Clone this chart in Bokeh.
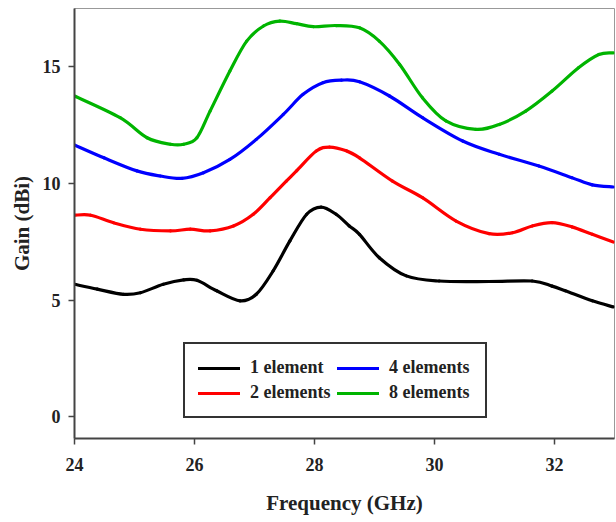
from bokeh.plotting import figure
from bokeh.models import Legend, LegendItem, FixedTicker, Range1d
from bokeh.embed import file_html
from bokeh.resources import INLINE

# 1 element
f1 = [24.0, 24.38, 24.82, 25.1, 25.48, 25.82, 26.04, 26.37, 26.76, 27.03, 27.31, 27.59,
      27.87, 28.11, 28.36, 28.58, 28.75, 29.08, 29.53, 30.08, 30.91, 31.63, 31.96, 32.18, 32.63, 32.98]
g1 = [5.68, 5.47, 5.25, 5.32, 5.68, 5.87, 5.85, 5.40, 4.97, 5.25, 6.25, 7.54,
      8.68, 8.99, 8.68, 8.18, 7.82, 6.82, 6.04, 5.82, 5.80, 5.82, 5.60, 5.40, 4.97, 4.71]

# 2 elements
f2 = [24.0, 24.27, 24.65, 25.1, 25.6, 25.93, 26.26, 26.65, 26.98, 27.26, 27.53, 27.7,
      28.03, 28.25, 28.53, 28.75, 29.3, 29.8, 30.36, 30.91, 31.3, 31.63, 31.96, 32.29, 32.63, 32.98]
g2 = [8.64, 8.64, 8.32, 8.04, 7.97, 8.04, 7.97, 8.18, 8.68, 9.39, 10.10, 10.54,
      11.39, 11.56, 11.40, 11.10, 10.10, 9.39, 8.39, 7.85, 7.89, 8.18, 8.32, 8.14, 7.82, 7.49]

# 4 elements
f4 = [24.0, 24.49, 25.04, 25.43, 25.79, 26.15, 26.59, 27.03, 27.48, 27.81, 28.14, 28.45,
      28.75, 29.25, 29.8, 30.47, 31.08, 31.74, 32.29, 32.63, 32.98]
g4 = [11.65, 11.10, 10.54, 10.32, 10.22, 10.46, 11.03, 11.89, 12.96, 13.82, 14.32, 14.43,
      14.36, 13.75, 12.82, 11.82, 11.25, 10.75, 10.25, 9.94, 9.85]

# 8 elements
f8 = [24.0, 24.76, 25.21, 25.6, 25.82, 26.04, 26.26, 26.59, 26.87, 27.15, 27.42, 27.7,
      27.98, 28.36, 28.75, 29.08, 29.42, 29.8, 30.19, 30.69, 31.08, 31.52, 31.96, 32.4, 32.74, 32.98]
g8 = [13.75, 12.82, 11.96, 11.68, 11.68, 11.96, 13.10, 14.82, 16.10, 16.75, 16.96, 16.85,
      16.72, 16.77, 16.67, 16.10, 15.10, 13.67, 12.68, 12.32, 12.53, 13.10, 13.96, 14.96, 15.53, 15.60]

labels = ["1 element", "2 elements", "4 elements", "8 elements"]
colors = ["#000000", "#FF0000", "#0000FF", "#00B400"]
x_ticks = [24, 26, 28, 30, 32]
y_ticks = [0, 5, 10, 15]

FONT = "Liberation Serif"


def smooth_segments(xs, ys):
    """Catmull-Rom style smoothing (like a spreadsheet 'smoothed line'),
    expressed as cubic Bezier segments between the read data points."""
    n = len(xs)
    x0, y0, x1, y1, cx0, cy0, cx1, cy1 = [], [], [], [], [], [], [], []
    for i in range(n - 1):
        a = max(i - 1, 0)
        d = min(i + 2, n - 1)
        x0.append(xs[i]); y0.append(ys[i])
        x1.append(xs[i + 1]); y1.append(ys[i + 1])
        cx0.append(xs[i] + (xs[i + 1] - xs[a]) / 6.0)
        cy0.append(ys[i] + (ys[i + 1] - ys[a]) / 6.0)
        cx1.append(xs[i + 1] - (xs[d] - xs[i]) / 6.0)
        cy1.append(ys[i + 1] - (ys[d] - ys[i]) / 6.0)
    return dict(x0=x0, y0=y0, x1=x1, y1=y1, cx0=cx0, cy0=cy0, cx1=cx1, cy1=cy1)


p = figure(width=616, height=522, output_backend="svg", toolbar_location=None,
           x_range=Range1d(24, 33), y_range=Range1d(-0.93, 17.5),
           min_border_left=74, min_border_right=2, min_border_top=8, min_border_bottom=84)
p.frame_width = 540
p.frame_height = 430
p.grid.visible = False
p.outline_line_color = "#999999"
p.outline_line_width = 1
p.background_fill_color = "white"
p.border_fill_color = "white"

series = [(f1, g1), (f2, g2), (f4, g4), (f8, g8)]
renderers = []
for (fx, gy), c in zip(series, colors):
    seg = smooth_segments(fx, gy)
    r = p.bezier(x0=seg["x0"], y0=seg["y0"], x1=seg["x1"], y1=seg["y1"],
                 cx0=seg["cx0"], cy0=seg["cy0"], cx1=seg["cx1"], cy1=seg["cy1"],
                 line_color=c, line_width=3.2, line_cap="round")
    renderers.append(r)

for ax in (p.xaxis[0], p.yaxis[0]):
    ax.axis_line_color = "#444444"
    ax.axis_line_width = 2
    ax.major_tick_line_color = "#444444"
    ax.major_tick_line_width = 1.5
    ax.major_tick_out = 6
    ax.major_tick_in = 0
    ax.minor_tick_out = 0
    ax.minor_tick_in = 0
    ax.major_label_text_font = FONT
    ax.major_label_text_font_style = "bold"
    ax.major_label_text_font_size = "18px"
    ax.major_label_text_color = "#222222"
    ax.axis_label_text_font = FONT
    ax.axis_label_text_font_style = "bold"
    ax.axis_label_text_font_size = "21px"
    ax.axis_label_text_color = "#222222"

p.xaxis[0].ticker = FixedTicker(ticks=x_ticks)
p.yaxis[0].ticker = FixedTicker(ticks=y_ticks)
p.xaxis[0].axis_label = "Frequency (GHz)"
p.yaxis[0].axis_label = "Gain (dBi)"
p.xaxis[0].major_label_standoff = 13
p.xaxis[0].axis_label_standoff = 17
p.yaxis[0].major_label_standoff = 8
p.yaxis[0].axis_label_standoff = 6

items = [LegendItem(label=l, renderers=[r]) for l, r in zip(labels, renderers)]
legend = Legend(items=items, location=(109, 20), ncols=2,
                label_text_font=FONT, label_text_font_style="bold",
                label_text_font_size="18px", label_text_color="#222222",
                glyph_width=42, glyph_height=18, label_height=18, label_width=83,
                label_standoff=10, spacing=4, padding=13, margin=0,
                border_line_color="#333333", border_line_width=2, border_line_alpha=1,
                background_fill_color="white", background_fill_alpha=1)
p.add_layout(legend, "center")

open("out.html", "w").write(file_html(p, INLINE))
